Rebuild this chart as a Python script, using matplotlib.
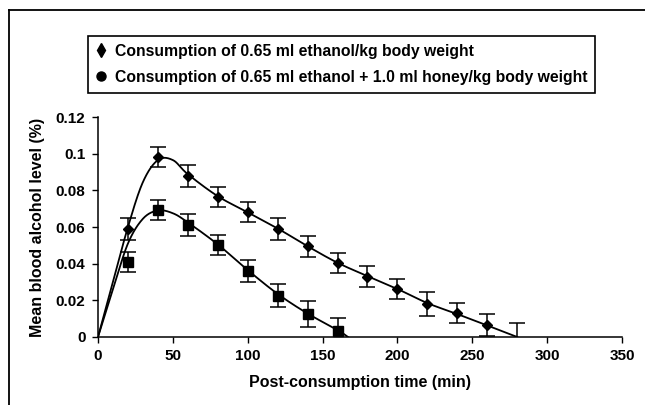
import numpy as np
import matplotlib
matplotlib.use("Agg")
import matplotlib.pyplot as plt
from matplotlib.lines import Line2D

plt.rcParams['font.family'] = ['Liberation Sans', 'DejaVu Sans']
plt.rcParams['font.weight'] = 'bold'

# Measured data (mean ± error)
time_eth = [20, 40, 60, 80, 100, 120, 140, 160, 180, 200, 220, 240, 260, 280]
eth_mean = [0.059, 0.098, 0.088, 0.0765, 0.068, 0.059, 0.0494, 0.0403, 0.033, 0.0263, 0.018, 0.0133, 0.0064, 0.0]
eth_err = [0.006, 0.0055, 0.006, 0.0055, 0.0055, 0.006, 0.0057, 0.0055, 0.0055, 0.0055, 0.0065, 0.0055, 0.006, 0.0075]

time_hon = [20, 40, 60, 80, 100, 120, 140, 160]
hon_mean = [0.041, 0.0695, 0.061, 0.050, 0.036, 0.0226, 0.0126, 0.0035]
hon_err = [0.0055, 0.0055, 0.006, 0.0055, 0.006, 0.0065, 0.007, 0.007]

# Fitted trend curves
fit_eth_t = [0, 10, 20, 30, 40, 50, 60, 80, 100, 120, 140, 160, 180, 200, 220, 240, 260, 280]
fit_eth_v = [0, 0.030, 0.060, 0.0845, 0.0965, 0.0965, 0.0888, 0.0768, 0.068, 0.0592, 0.0495,
             0.0405, 0.0332, 0.0262, 0.0185, 0.0125, 0.0063, 0.0]
fit_hon_t = [0, 10, 20, 30, 40, 50, 60, 80, 100, 120, 140, 160, 167]
fit_hon_v = [0, 0.026, 0.051, 0.0645, 0.069, 0.0675, 0.0625, 0.0505, 0.0365, 0.0235, 0.0128, 0.0038, 0.0]

x_ticks = [0, 50, 100, 150, 200, 250, 300, 350]
y_ticks = [0, 0.02, 0.04, 0.06, 0.08, 0.1, 0.12]
y_ticklabels = ["0", "0.02", "0.04", "0.06", "0.08", "0.1", "0.12"]

label_eth = "Consumption of 0.65 ml ethanol/kg body weight"
label_hon = "Consumption of 0.65 ml ethanol + 1.0 ml honey/kg body weight"


def catmull_rom(xs, ys, n=30):
    xs = np.asarray(xs, float)
    ys = np.asarray(ys, float)
    px = np.concatenate([[2 * xs[0] - xs[1]], xs, [2 * xs[-1] - xs[-2]]])
    py = np.concatenate([[2 * ys[0] - ys[1]], ys, [2 * ys[-1] - ys[-2]]])
    outx, outy = [], []
    t = np.linspace(0, 1, n)
    for i in range(1, len(px) - 2):
        p0x, p1x, p2x, p3x = px[i - 1:i + 3]
        p0y, p1y, p2y, p3y = py[i - 1:i + 3]
        cx = 0.5 * ((2 * p1x) + (-p0x + p2x) * t + (2 * p0x - 5 * p1x + 4 * p2x - p3x) * t ** 2 + (-p0x + 3 * p1x - 3 * p2x + p3x) * t ** 3)
        cy = 0.5 * ((2 * p1y) + (-p0y + p2y) * t + (2 * p0y - 5 * p1y + 4 * p2y - p3y) * t ** 2 + (-p0y + 3 * p1y - 3 * p2y + p3y) * t ** 3)
        outx.extend(cx)
        outy.extend(cy)
    return np.array(outx), np.array(outy)


fig = plt.figure(figsize=(6.45, 4.05), dpi=100)
ax = fig.add_axes([98 / 645, 68 / 405, 524 / 645, 220 / 405])

cx, cy = catmull_rom(fit_eth_t, fit_eth_v)
ax.plot(cx, cy, color='black', lw=1.3, zorder=2)
hx, hy = catmull_rom(fit_hon_t, fit_hon_v)
ax.plot(hx, hy, color='black', lw=1.3, zorder=2)

# Error bars
ax.errorbar(time_eth, eth_mean, yerr=eth_err, fmt='none', ecolor='black', elinewidth=1.1,
            capsize=6, capthick=1.1, zorder=3)
ax.errorbar(time_hon, hon_mean, yerr=hon_err, fmt='none', ecolor='black', elinewidth=1.1,
            capsize=6, capthick=1.1, zorder=3)

# Markers (the zero-valued last ethanol point has no visible marker)
ax.plot(time_eth[:-1], eth_mean[:-1], linestyle='none', marker='D', markersize=5.5, color='black', zorder=4)
ax.plot(time_hon, hon_mean, linestyle='none', marker='s', markersize=7, color='black', zorder=4)

ax.set_xlim(0, 350)
ax.set_ylim(0, 0.12)
ax.set_xticks(x_ticks)
ax.set_xticklabels([str(v) for v in x_ticks], fontsize=11, fontweight='bold')
ax.set_yticks(y_ticks)
ax.set_yticklabels(y_ticklabels, fontsize=11, fontweight='bold')
ax.tick_params(direction='out', length=4, width=1, color='black', pad=5)
ax.spines['top'].set_visible(False)
ax.spines['right'].set_visible(False)
ax.spines['left'].set_linewidth(1.1)
ax.spines['bottom'].set_linewidth(1.1)
ax.set_xlabel("Post-consumption time (min)", fontsize=11.5, fontweight='bold', labelpad=8)
ax.set_ylabel("Mean blood alcohol level (%)", fontsize=11.5, fontweight='bold', labelpad=8)

# Legend
handles = [
    Line2D([], [], linestyle='none', marker='d', markersize=7, color='black'),
    Line2D([], [], linestyle='none', marker='o', markersize=6.5, color='black'),
]
leg = fig.legend(handles, [label_eth, label_hon], loc='upper left',
                 bbox_to_anchor=(88 / 645, 1 - 36 / 405), frameon=True, fancybox=False,
                 edgecolor='black', framealpha=1, prop={'weight': 'bold', 'size': 11.3},
                 handlelength=0.6, handletextpad=0.6, borderpad=0.5, labelspacing=0.7,
                 borderaxespad=0)
leg.get_frame().set_linewidth(1.2)

# Outer frame lines (top and left)
fig.add_artist(Line2D([9 / 645, 1.0], [1 - 10 / 405, 1 - 10 / 405], color='black', lw=1.3,
                      transform=fig.transFigure))
fig.add_artist(Line2D([9 / 645, 9 / 645], [0, 1 - 10 / 405], color='black', lw=1.3,
                      transform=fig.transFigure))

fig.savefig("out.png", dpi=100)
